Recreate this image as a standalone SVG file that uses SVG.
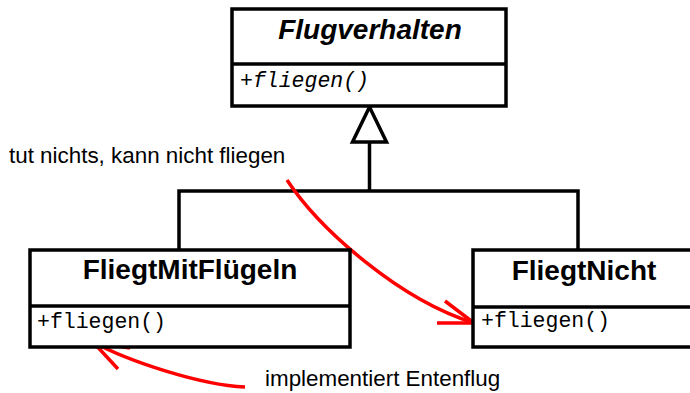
<svg xmlns="http://www.w3.org/2000/svg" width="690" height="393" viewBox="0 0 690 393">
  <style>
    .box { fill: #fff; stroke: #000; stroke-width: 3.5; }
    .sep { stroke: #000; stroke-width: 3.5; }
    .title { font-family: "Liberation Sans", Arial, sans-serif; font-size: 28px; font-weight: bold; text-anchor: middle; fill: #000; }
    .op { font-family: "Liberation Mono", "Courier New", monospace; font-size: 21.5px; fill: #000; }
    .note { font-family: "Liberation Sans", Arial, sans-serif; font-size: 22.4px; fill: #000; }
    .gen { fill: none; stroke: #000; stroke-width: 3.5; }
    .red { fill: none; stroke: #f00; stroke-width: 3.5; }
  </style>
  <rect width="690" height="393" fill="#fff"/>

  <!-- inheritance connectors -->
  <g id="connectors">
    <polyline class="gen" points="179,250 179,191 578,191 578,250"/>
    <line class="gen" x1="369.5" y1="191" x2="369.5" y2="142"/>
    <polygon class="gen" points="369.5,107 386.5,142 352.5,142" fill="#fff" style="fill:#fff"/>
    <!-- annotation arrows -->
    <path class="red" d="M287,180 C320,230 400,300 474,323"/>
    <polyline class="red" points="437,323 474,323 445,301"/>
    <path class="red" d="M245,387 C200,385 128,361 93,342"/>
    <polyline class="red" points="130,348 93,342 118,369"/>
  </g>

  <g id="Flugverhalten">
    <rect class="box" x="232" y="9" width="274" height="97"/>
    <line class="sep" x1="232" y1="64" x2="506" y2="64"/>
    <text class="title" x="370" y="39" font-style="italic">Flugverhalten</text>
    <text class="op" x="240" y="87" font-style="italic">+fliegen()</text>
  </g>

  <g id="FliegtMitFluegeln">
    <rect class="box" x="30" y="250" width="320" height="97"/>
    <line class="sep" x1="30" y1="306" x2="350" y2="306"/>
    <text class="title" x="190" y="279">FliegtMitFlügeln</text>
    <text class="op" x="37" y="328">+fliegen()</text>
  </g>

  <g id="FliegtNicht">
    <rect class="box" x="473" y="250" width="222" height="97"/>
    <line class="sep" x1="473" y1="307" x2="695" y2="307"/>
    <text class="title" x="584" y="280">FliegtNicht</text>
    <text class="op" x="481" y="327">+fliegen()</text>
  </g>

  <g id="notes">
    <text class="note" x="9" y="163">tut nichts, kann nicht fliegen</text>
    <text class="note" x="265" y="386">implementiert Entenflug</text>
  </g>
</svg>
